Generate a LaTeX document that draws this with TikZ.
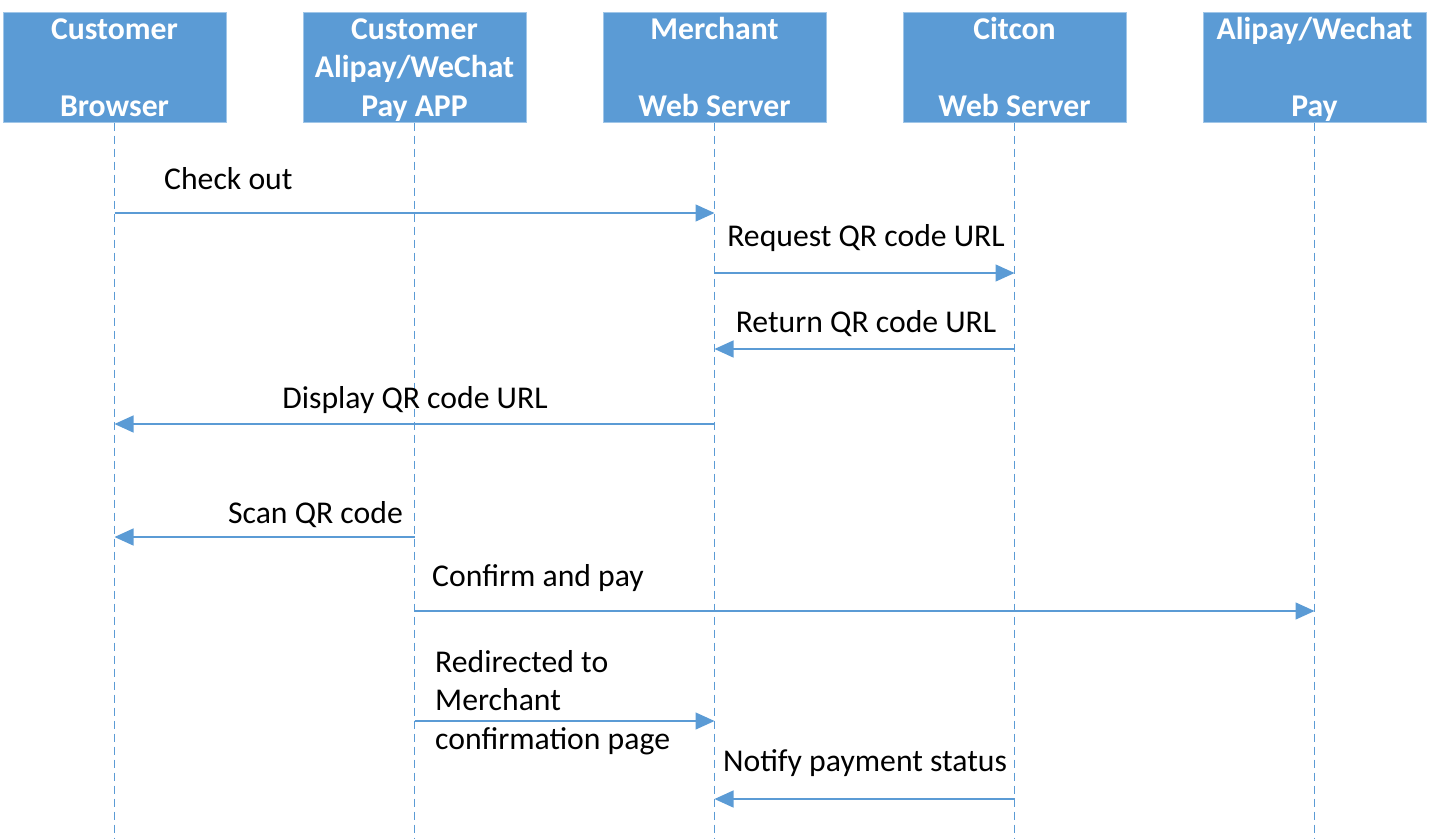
\documentclass[tikz,border=0pt]{standalone}
\usepackage{fontspec}
\setmainfont{Carlito}
\usetikzlibrary{arrows.meta}
\definecolor{lane}{RGB}{91,155,213}
\definecolor{laneedge}{RGB}{160,198,232}
\def\bodyfont{\fontsize{31.7}{38.5}\selectfont}
\tikzset{
  actor/.style={fill=lane, draw=laneedge, line width=1pt, text=white,
    font=\bodyfont\bfseries, minimum width=223pt, minimum height=110pt,
    text height=100pt, text depth=2pt, align=center, inner sep=0pt},
  life/.style={draw=lane, dash pattern=on 8pt off 5pt, line width=1pt},
  msg/.style={draw=lane, line width=1.3pt, -{Triangle[length=19pt,width=17pt]}},
  note/.style={font=\bodyfont, inner sep=0pt, align=left}
}

\begin{document}
\begin{tikzpicture}[x=1pt,y=-1pt]
        \useasboundingbox (0,0) rectangle (1439,838);
        % actors and their lifelines
        \foreach \i/\who/\txt in {0/cb/{Customer\\\strut\\Browser},
                                  1/app/{Customer\\Alipay/WeChat\\Pay APP},
                                  2/mws/{Merchant\\\strut\\Web Server},
                                  3/cws/{Citcon\\\strut\\Web Server},
                                  4/pay/{Alipay/Wechat\\\strut\\Pay}}{
          \node[actor] (\who) at (114.5+300*\i,67) {\txt};
          \coordinate (\who-end) at (114.5+300*\i,838);
          \draw[life] (\who.south) -- (\who-end);
        }
        % messages
        \draw[msg] (cb |- 0,213) -- (mws |- 0,213);
        \node[note, anchor=base west] (checkout) at (164,189) {Check out};
        \draw[msg] (mws |- 0,273) -- (cws |- 0,273);
        \node[note, anchor=base] (request) at (866,246) {Request QR code URL};
        \draw[msg] (cws |- 0,349) -- (mws |- 0,349);
        \node[note, anchor=base] (return) at (866,332) {Return QR code URL};
        \draw[msg] (mws |- 0,424) -- (cb |- 0,424);
        \node[note, anchor=base] (display) at (415,408) {Display QR code URL};
        \draw[msg] (app |- 0,537) -- (cb |- 0,537);
        \node[note, anchor=base east] (scan) at (403,523) {Scan QR code};
        \draw[msg] (app |- 0,611) -- (pay |- 0,611);
        \node[note, anchor=base west] (confirm) at (432,586) {Confirm and pay};
        \draw[msg] (app |- 0,721) -- (mws |- 0,721);
        \node[note, anchor=base west] (redirect) at (435,749) {Redirected to\\Merchant\\confirmation page};
        \draw[msg] (cws |- 0,799) -- (mws |- 0,799);
        \node[note, anchor=base] (notify) at (865,771) {Notify payment status};
\end{tikzpicture}
\end{document}
